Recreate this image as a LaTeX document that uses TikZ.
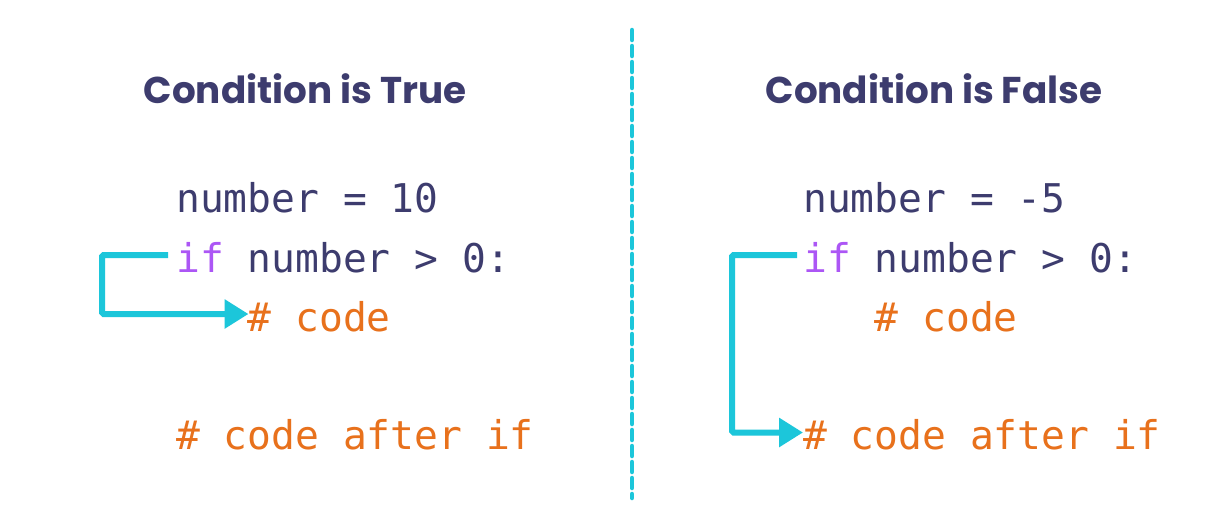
\documentclass[tikz,border=0pt]{standalone}
\usepackage{fontspec}
\usetikzlibrary{arrows.meta}
\newfontfamily\codefont{DejaVu Sans Mono}
\newfontfamily\titlefont{Poppins}[UprightFont=* Bold]
\definecolor{navy}{HTML}{3D3C6E}
\definecolor{kwpurple}{HTML}{AC56F5}
\definecolor{cmorange}{HTML}{E8711C}
\definecolor{flowcyan}{HTML}{1CC6DA}
\begin{document}
\begin{tikzpicture}[x=1pt,y=-1pt,
  title/.style={font=\titlefont\fontsize{37.3}{40}\selectfont, text=navy, inner sep=0pt, anchor=base},
  code/.style={font=\codefont\fontsize{39.6}{40}\selectfont, text=navy, inner sep=0pt, anchor=base west},
  flow/.style={draw=flowcyan, line width=6pt, rounded corners=1.5pt, -{Triangle[length=24pt,width=28pt]}},
  divider/.style={draw=flowcyan, line width=4.5pt, dash pattern=on 10pt off 6pt, line cap=round}]
\useasboundingbox[fill=white] (0,0) rectangle (1209,509);
% divider
\coordinate (dtop) at (632,30);
\coordinate (dbot) at (632,498);
\draw[divider] (dtop) -- (dbot);
% titles
\node[title] (t1) at (305,103) {Condition is True};
\node[title] (t2) at (934,103) {Condition is False};
% left code
\node[code] (l1) at (176,212) {number = 10};
\node[code] (l2) at (176,272) {\textcolor{kwpurple}{if} number > 0:};
\node[code, text=cmorange] (l3) at (247.5,331) {\# code};
\node[code, text=cmorange] (l5) at (176,449.5) {\# code after if};
% right code
\node[code] (r1) at (803,212) {number = -5};
\node[code] (r2) at (803,272) {\textcolor{kwpurple}{if} number > 0:};
\node[code, text=cmorange] (r3) at (874.5,331) {\# code};
\node[code, text=cmorange] (r5) at (803,449.5) {\# code after if};
% arrows
\draw[flow] ([shift={(-8,-17)}]l2.base west) -- ++(-66,0) |- ([shift={(1,-17)}]l3.base west);
\draw[flow] ([shift={(-6,-17)}]r2.base west) -- ++(-65,0) |- ([shift={(0,-17)}]r5.base west);
\end{tikzpicture}
\end{document}
